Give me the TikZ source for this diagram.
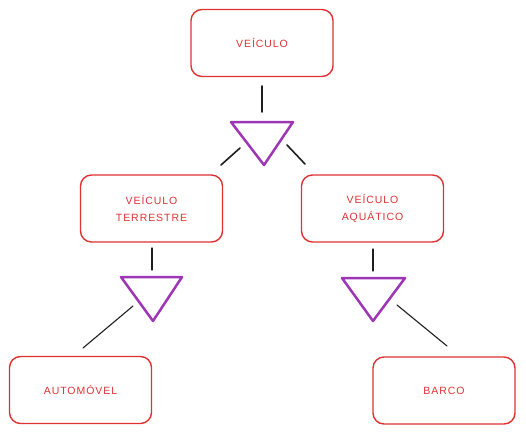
\documentclass[tikz,border=0pt]{standalone}
\usepackage{fontspec}
\setmainfont{Liberation Sans}[LetterSpace=9]
\definecolor{exred}{HTML}{E03131}
\definecolor{expurple}{HTML}{9C36B5}
\definecolor{exblack}{HTML}{1E1E1E}
\begin{document}
\begin{tikzpicture}[x=1pt,y=-1pt,
  ent/.style={draw=exred, line width=1.4pt, rounded corners=11pt, minimum width=142pt, minimum height=67pt, text=exred, font=\fontsize{10.5}{17}\selectfont, align=center, inner sep=0pt},
  tri/.style={draw=expurple, line width=2.5pt, line join=round},
  conn/.style={draw=exblack, line width=1.6pt, line cap=round}]
\useasboundingbox (0,0) rectangle (526,434);
\node[ent] (veic) at (262,43) {VEÍCULO};
\node[ent] (terr) at (151.5,208.5) {VEÍCULO\\TERRESTRE};
\node[ent] (aqua) at (372.5,208.5) {VEÍCULO\\AQUÁTICO};
\node[ent] (auto) at (80.5,390) {AUTOMÓVEL};
\node[ent] (barc) at (444,390.5) {BARCO};
% triangles
\coordinate (t1a) at (231,122); \coordinate (t1b) at (293,122); \coordinate (t1c) at (264,165);
\coordinate (t2a) at (121,277); \coordinate (t2b) at (182,277); \coordinate (t2c) at (153,321);
\coordinate (t3a) at (342,278); \coordinate (t3b) at (405,278); \coordinate (t3c) at (373,321);
\draw[tri] (t1a) -- (t1b) -- (t1c) -- cycle;
\draw[tri] (t2a) -- (t2b) -- (t2c) -- cycle;
\draw[tri] (t3a) -- (t3b) -- (t3c) -- cycle;
% connector ends
\coordinate (c1s) at (262,86); \coordinate (c1e) at (262,112);
\coordinate (c2s) at (240,148); \coordinate (c2e) at (221,165);
\coordinate (c3s) at (287,145); \coordinate (c3e) at (305,164);
\coordinate (c4s) at (152,248); \coordinate (c4e) at (152,270);
\coordinate (c5s) at (133,306); \coordinate (c5e) at (83,348);
\coordinate (c6s) at (373,249); \coordinate (c6e) at (373,271);
\coordinate (c7s) at (397,305); \coordinate (c7e) at (447,346);
\draw[conn] (c1s) -- (c1e);
\draw[conn] (c2s) -- (c2e);
\draw[conn] (c3s) -- (c3e);
\draw[conn, line width=1.2pt] (c4s) -- (c4e);
\draw[conn, line width=1.1pt] (c5s) -- (c5e);
\draw[conn, line width=1.2pt] (c6s) -- (c6e);
\draw[conn, line width=1.1pt] (c7s) -- (c7e);
\end{tikzpicture}
\end{document}
